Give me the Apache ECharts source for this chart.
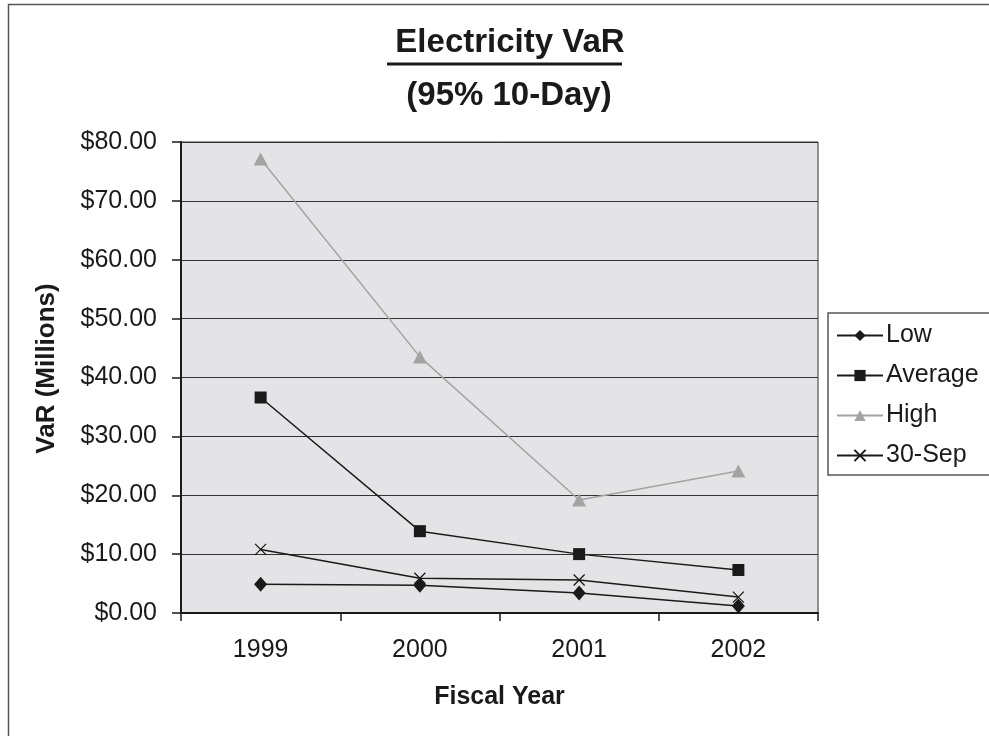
<html>
<head>
    <meta charset="utf-8">
    <title>Electricity VaR</title>
    <script src="https://cdn.jsdelivr.net/npm/echarts@6/dist/echarts.min.js"></script>
    <style>
        html, body { margin: 0; padding: 0; background: #fff; }
        #main { width: 989px; height: 736px; }
    </style>
</head>
<body>
    <div id="main"></div>
    <script type="text/javascript">
        // data (millions of dollars)
        var years = ['1999', '2000', '2001', '2002'];
        var lowVals = [4.9, 4.7, 3.4, 1.2];
        var avgVals = [36.6, 13.9, 10.0, 7.3];
        var highVals = [77.1, 43.5, 19.2, 24.1];
        var sepVals = [10.8, 5.9, 5.6, 2.7];

        var font = "'Liberation Sans', Arial, sans-serif";
        var ink = '#1a1a1a';
        var grey = '#a3a3a3';
        var crossPath = 'path://M0,0L10,10M10,0L0,10';

        var chart = echarts.init(document.getElementById('main'));

        function lineSeries(name, data, color, symbol, size, extra) {
            var s = {
                name: name,
                type: 'line',
                data: data,
                symbol: symbol,
                symbolSize: size,
                showAllSymbol: true,
                lineStyle: { color: color, width: 1.5 },
                itemStyle: { color: color },
                emphasis: { disabled: true },
                z: 3
            };
            if (extra) s.itemStyle = extra;
            return s;
        }

        var option = {
            backgroundColor: '#fff',
            animation: false,
            textStyle: { fontFamily: font },
            title: [
                {
                    text: 'Electricity VaR',
                    left: 505, top: 21, textAlign: 'center',
                    textStyle: { fontFamily: font, fontSize: 33, fontWeight: 'bold', color: ink }
                },
                {
                    text: '(95% 10-Day)',
                    left: 504, top: 74, textAlign: 'center',
                    textStyle: { fontFamily: font, fontSize: 33, fontWeight: 'bold', color: ink }
                }
            ],
            graphic: [
                {
                    type: 'rect', silent: true,
                    shape: { x: 8.5, y: 4.5, width: 1100, height: 900 },
                    style: { fill: null, stroke: '#555', lineWidth: 1.5 }
                },
                {
                    type: 'line', silent: true,
                    shape: { x1: 387, y1: 64, x2: 622, y2: 64 },
                    style: { stroke: ink, lineWidth: 3 }
                }
            ],
            legend: {
                orient: 'vertical',
                left: 828, top: 313,
                padding: [10, 30, 7, 8],
                borderColor: '#555', borderWidth: 1.5,
                itemWidth: 46, itemHeight: 14, itemGap: 15,
                textStyle: { fontFamily: font, fontSize: 25, color: ink, lineHeight: 25, padding: [0, 0, 0, -2] },
                data: ['Low', 'Average', 'High', '30-Sep']
            },
            grid: {
                left: 181, right: 171, top: 142, bottom: 123,
                show: true,
                backgroundColor: '#e4e4e6',
                borderColor: '#333', borderWidth: 1
            },
            xAxis: {
                type: 'category',
                data: years,
                boundaryGap: true,
                name: 'Fiscal Year',
                nameLocation: 'middle',
                nameGap: 72,
                nameTextStyle: { fontFamily: font, fontSize: 25, fontWeight: 'bold', color: ink },
                axisLine: { lineStyle: { color: ink, width: 2 } },
                axisTick: { show: true, inside: false, length: 8, lineStyle: { color: ink, width: 1.5 } },
                axisLabel: { fontFamily: font, fontSize: 25, color: ink, margin: 25 },
                splitLine: { show: false }
            },
            yAxis: {
                type: 'value',
                min: 0, max: 80, interval: 10,
                name: 'VaR (Millions)',
                nameLocation: 'middle',
                nameGap: 121,
                nameTextStyle: { fontFamily: font, fontSize: 26, fontWeight: 'bold', color: ink, padding: [0, 0, 0, 18] },
                axisLine: { show: true, lineStyle: { color: ink, width: 2 } },
                axisTick: { show: true, inside: false, length: 9, lineStyle: { color: ink, width: 1.5 } },
                axisLabel: {
                    fontFamily: font, fontSize: 25, color: ink, margin: 24,
                    formatter: function (v) { return '$' + v.toFixed(2); }
                },
                splitLine: { show: true, lineStyle: { color: '#333', width: 1.2 } }
            },
            series: [
                lineSeries('Low', lowVals, ink, 'diamond', [13, 15]),
                lineSeries('Average', avgVals, ink, 'rect', 12),
                lineSeries('High', highVals, grey, 'triangle', [14, 13]),
                lineSeries('30-Sep', sepVals, ink, crossPath, 11,
                    { color: ink, borderColor: ink, borderWidth: 1.3 })
            ]
        };
        chart.setOption(option);
    </script>
</body>
</html>
